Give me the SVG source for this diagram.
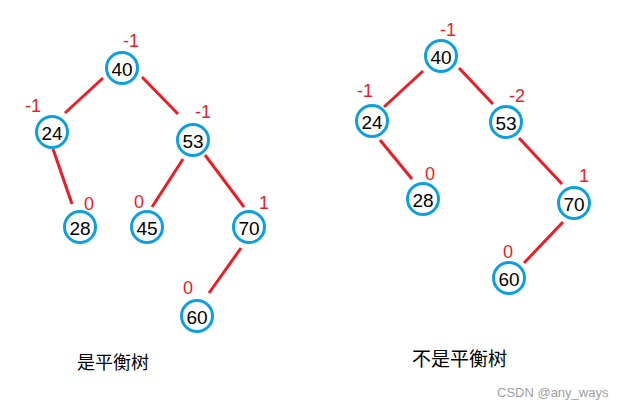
<svg xmlns="http://www.w3.org/2000/svg" width="622" height="408" viewBox="0 0 622 408">
<style>
.n circle{fill:#fff;stroke:#0ca0e0;stroke-width:3}
.n .v{font-family:"Liberation Sans",Arial,sans-serif;font-size:19px;fill:#000;text-anchor:middle;dominant-baseline:central}
.n .b{font-family:"Liberation Sans",Arial,sans-serif;font-size:18px;fill:#ee1c24;text-anchor:start}
.e line{stroke:#ee1c24;stroke-width:3}
.cap{font-family:"Noto Sans CJK SC",sans-serif;font-size:18px;fill:#000}
</style>
<rect width="622" height="408" fill="#fff"/>
<g class="e" id="connectors">
<line x1="103" y1="78" x2="65" y2="113"/>
<line x1="142" y1="77" x2="178" y2="114"/>
<line x1="53" y1="149" x2="72" y2="204"/>
<line x1="183" y1="159" x2="152" y2="207"/>
<line x1="205" y1="155" x2="244" y2="207"/>
<line x1="241" y1="248" x2="209" y2="293"/>
<line x1="423" y1="71" x2="384" y2="107"/>
<line x1="459" y1="68" x2="493" y2="104"/>
<line x1="380" y1="140" x2="412" y2="179"/>
<line x1="519" y1="138" x2="562" y2="184"/>
<line x1="563" y1="222" x2="524" y2="263"/>
</g>
<g class="n" id="L40"><circle cx="122" cy="68" r="15.5"/><text class="v" x="122" y="69">40</text><text class="b" x="123" y="47">-1</text></g>
<g class="n" id="L24"><circle cx="52" cy="132" r="15.5"/><text class="v" x="52" y="133">24</text><text class="b" x="25" y="112">-1</text></g>
<g class="n" id="L53"><circle cx="193" cy="140" r="15.5"/><text class="v" x="193" y="141">53</text><text class="b" x="195" y="118">-1</text></g>
<g class="n" id="L28"><circle cx="80" cy="227" r="15.5"/><text class="v" x="80" y="228">28</text><text class="b" x="84" y="210">0</text></g>
<g class="n" id="L45"><circle cx="147" cy="227" r="15.5"/><text class="v" x="147" y="228">45</text><text class="b" x="134" y="208">0</text></g>
<g class="n" id="L70"><circle cx="249" cy="227" r="15.5"/><text class="v" x="249" y="228">70</text><text class="b" x="259" y="209">1</text></g>
<g class="n" id="L60"><circle cx="197" cy="316" r="15.5"/><text class="v" x="197" y="317">60</text><text class="b" x="183" y="294">0</text></g>
<g class="n" id="R40"><circle cx="441" cy="56" r="15.5"/><text class="v" x="441" y="57">40</text><text class="b" x="440" y="36">-1</text></g>
<g class="n" id="R24"><circle cx="372" cy="121" r="15.5"/><text class="v" x="372" y="122">24</text><text class="b" x="357" y="97">-1</text></g>
<g class="n" id="R53"><circle cx="506" cy="122" r="15.5"/><text class="v" x="506" y="123">53</text><text class="b" x="509" y="102">-2</text></g>
<g class="n" id="R28"><circle cx="423" cy="199" r="15.5"/><text class="v" x="423" y="200">28</text><text class="b" x="425" y="180">0</text></g>
<g class="n" id="R70"><circle cx="574" cy="203" r="15.5"/><text class="v" x="574" y="204">70</text><text class="b" x="579" y="182">1</text></g>
<g class="n" id="R60"><circle cx="509" cy="278" r="15.5"/><text class="v" x="509" y="279">60</text><text class="b" x="503" y="258">0</text></g>
<text class="cap" x="77" y="369">是平衡树</text>
<text class="cap" x="412" y="366" style="font-size:19px">不是平衡树</text>
<text x="497" y="397" style="font-family:'Liberation Sans',Arial,sans-serif;font-size:13px;fill:#a0a0a0">CSDN @any_ways</text>
</svg>
